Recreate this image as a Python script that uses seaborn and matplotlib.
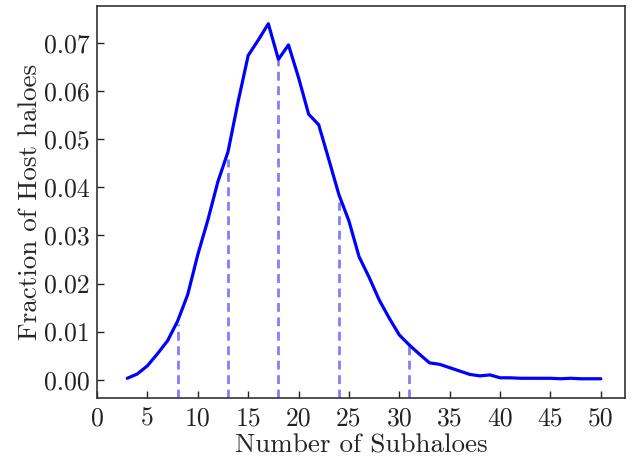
import matplotlib
matplotlib.use("Agg")
import matplotlib.pyplot as plt
import seaborn as sns
import pandas as pd

# Data
n_sub = list(range(3, 51))
fraction = [0.0003, 0.0012, 0.0029, 0.0054, 0.0081, 0.0122, 0.0177, 0.0260, 0.0332,
            0.0412, 0.0474, 0.0578, 0.0674, 0.0706, 0.0740, 0.0666, 0.0696, 0.0628,
            0.0552, 0.0530, 0.0458, 0.0385, 0.0330, 0.0256, 0.0213, 0.0166, 0.0128,
            0.0093, 0.0072, 0.0053, 0.0035, 0.0032, 0.0025, 0.0018, 0.0011, 0.0008,
            0.0010, 0.0004, 0.0004, 0.0003, 0.0003, 0.0003, 0.0003, 0.0002, 0.0003,
            0.0002, 0.0002, 0.0002]
vline_x = [8, 13, 18, 24, 31]
vline_top = [0.0115, 0.0458, 0.0664, 0.0370, 0.0070]

xlabel = "Number of Subhaloes"
ylabel = "Fraction of Host haloes"
xticks = [0, 5, 10, 15, 20, 25, 30, 35, 40, 45, 50]
yticks = [0.00, 0.01, 0.02, 0.03, 0.04, 0.05, 0.06, 0.07]

sns.set_style("ticks")
plt.rcParams["font.family"] = ["cmr10", "DejaVu Serif"]
plt.rcParams["mathtext.fontset"] = "cm"
plt.rcParams["axes.formatter.use_mathtext"] = True

fig = plt.figure(figsize=(6.35, 4.58), dpi=100)
ax = fig.add_axes([0.1528, 0.131, 0.8315, 0.856])

y_bottom = -0.0038
df = pd.DataFrame({"n": n_sub, "f": fraction})
sns.lineplot(data=df, x="n", y="f", ax=ax, color="#0000ff", linewidth=2.3)

for xv, yt in zip(vline_x, vline_top):
    ax.plot([xv, xv], [y_bottom, yt], color="#0000ff",
            alpha=0.5, linestyle=(0, (3.2, 2.0)), linewidth=2.0)

ax.set_xlim(0, 52.4)
ax.set_ylim(y_bottom, 0.0777)
ax.set_xticks(xticks)
ax.set_yticks(yticks)
ax.set_xticklabels([str(t) for t in xticks])
ax.set_yticklabels([f"{t:.2f}" for t in yticks])
ax.tick_params(direction="in", length=5, width=1, labelsize=18.5, colors="#222222", pad=5)
ax.tick_params(axis="x", pad=6)
ax.set_xlabel(xlabel, fontsize=19.5, labelpad=3)
ax.set_ylabel(ylabel, fontsize=19.5, labelpad=2)
for s in ax.spines.values():
    s.set_visible(True)
    s.set_color("#333333")
    s.set_linewidth(1.2)

fig.savefig("out.png", dpi=100)
